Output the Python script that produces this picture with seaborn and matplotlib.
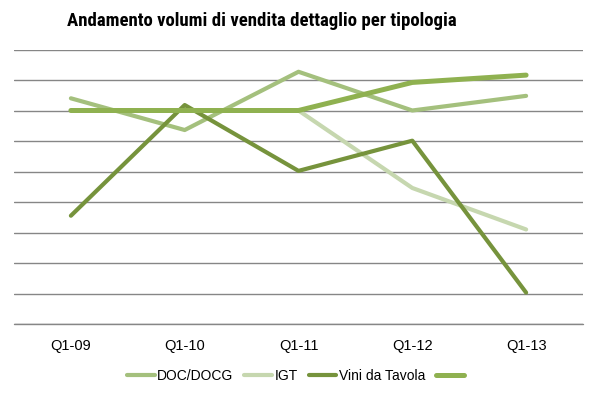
import matplotlib
matplotlib.use("Agg")
import matplotlib.pyplot as plt
import pandas as pd
import seaborn as sns
from matplotlib.lines import Line2D
from matplotlib import font_manager

quarters = ["Q1-09", "Q1-10", "Q1-11", "Q1-12", "Q1-13"]
doc_docg = [7.40, 6.36, 8.27, 7.00, 7.48]
igt = [7.00, 7.00, 7.00, 4.46, 3.10]
vini_tavola = [3.55, 7.18, 5.02, 6.01, 1.03]
totale = [7.00, 7.00, 7.00, 7.92, 8.16]

series_names = ["DOC/DOCG", "IGT", "Vini da Tavola", " "]
series_values = [doc_docg, igt, vini_tavola, totale]
colors = ["#A4C07D", "#C6D7AF", "#76933C", "#8FB150"]
widths = [3.0, 3.0, 3.0, 3.6]

sns.set_theme(style="white")
plt.rcParams["font.family"] = ["Liberation Sans", "DejaVu Sans"]
plt.rcParams["text.color"] = "black"

df = pd.DataFrame(
    [(q, name, v) for name, vals in zip(series_names, series_values) for q, v in zip(quarters, vals)],
    columns=["quarter", "serie", "value"],
)

fig = plt.figure(figsize=(5.97, 3.94), dpi=100)
ax = fig.add_axes([14 / 597, 1 - 324 / 394, (583 - 14) / 597, (324 - 49.5) / 394])

for name, color, lw in zip(series_names, colors, widths):
    sub = df[df["serie"] == name]
    sns.lineplot(data=sub, x="quarter", y="value", color=color, linewidth=lw,
                 solid_capstyle="round", ax=ax, legend=False)

ax.set_xlim(-0.5, 4.5)
ax.set_ylim(0, 9)
ax.set_yticks(range(0, 10))
ax.set_yticklabels([])
ax.yaxis.grid(True, color="#868686", linewidth=1.0)
ax.axhline(0, color="#868686", linewidth=1.0, clip_on=False, zorder=0)
ax.set_axisbelow(True)
for s in ax.spines.values():
    s.set_visible(False)
ax.tick_params(axis="x", length=0, labelsize=10.5, pad=11, labelcolor="#000000")
ax.tick_params(axis="y", length=0)
ax.set_xlabel("")
ax.set_ylabel("")

# condensed bold title if available
names = {f.name for f in font_manager.fontManager.ttflist}
title_family = ["DejaVu Sans"]
for cand in ["Liberation Sans Narrow", "Roboto Condensed", "Open Sans Condensed"]:
    if cand in names:
        title_family = [cand, "DejaVu Sans"]
        break
fig.text(0.438, 1 - 21 / 394, "Andamento volumi di vendita dettaglio per tipologia",
         ha="center", va="center", fontsize=13.5, fontweight="bold",
         fontstretch="condensed", family=title_family, color="black")

handles = [Line2D([0], [0], color=c, linewidth=lw, solid_capstyle="round") for c, lw in zip(colors, widths)]
fig.legend(handles, series_names, loc="center", bbox_to_anchor=(0.5, 1 - 376 / 394),
           ncol=4, frameon=False, fontsize=10, handlelength=2.0, handletextpad=0.15,
           columnspacing=0.8, labelcolor="black")

fig.savefig("out.png", dpi=100)
